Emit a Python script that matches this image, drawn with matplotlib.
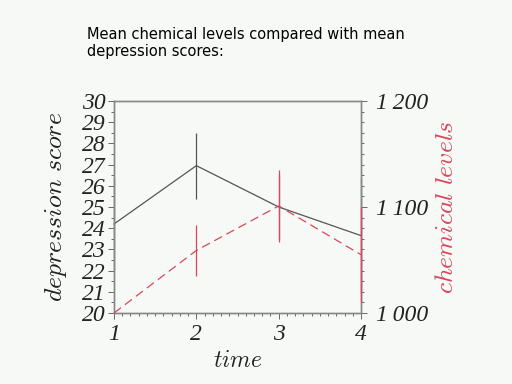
import matplotlib
matplotlib.use("Agg")
import matplotlib.pyplot as plt
from matplotlib.ticker import MultipleLocator, FixedLocator, FuncFormatter

plt.rcParams['mathtext.fontset'] = 'cm'

time = [1, 2, 3, 4]
depression = [24.2, 26.95, 25.0, 23.65]
depression_err = [2.15, 1.55, 1.5, 2.7]
chemical = [1000, 1059, 1101, 1055]
chemical_err = [0, 24, 34, 45]

title = "Mean chemical levels compared with mean\ndepression scores:"

fig = plt.figure(figsize=(5.12, 3.84), dpi=100, facecolor='#f6f9f6')
ax = fig.add_axes([0.2227, 0.1849, 0.4824, 0.5521])
ax.set_facecolor('#f6f9f6')
ax2 = ax.twinx()

ax.errorbar(time, depression, yerr=depression_err, color='#555555', lw=0.9,
            elinewidth=0.9, capsize=0, clip_on=False, zorder=3)
ax2.errorbar(time, chemical, yerr=chemical_err, color='#d8475a', lw=0.9,
             elinewidth=0.9, capsize=0, ls=(0, (7, 4)), clip_on=False, zorder=4)

ax.set_xlim(1, 4)
ax.set_ylim(20, 30)
ax2.set_ylim(1000, 1200)

fmt = FuncFormatter(lambda v, p: '%d' % round(v))
fmt2 = FuncFormatter(lambda v, p: str(int(round(v)))[0] + '\u2009' + str(int(round(v)))[1:])
ax.xaxis.set_major_locator(FixedLocator(time))
ax.xaxis.set_minor_locator(MultipleLocator(0.1))
ax.yaxis.set_major_locator(MultipleLocator(1))
ax.yaxis.set_minor_locator(MultipleLocator(0.5))
ax2.yaxis.set_major_locator(MultipleLocator(100))
ax2.yaxis.set_minor_locator(MultipleLocator(10))
ax.xaxis.set_major_formatter(fmt)
ax.yaxis.set_major_formatter(fmt)
ax2.yaxis.set_major_formatter(fmt2)

for a in (ax, ax2):
    for s in a.spines.values():
        s.set_color('#888888')
        s.set_linewidth(1.0)
    a.tick_params(which='both', color='#666666', width=0.7, labelsize=17, pad=2)
    a.tick_params(which='major', length=4)
    a.tick_params(which='minor', length=2.5)
ax2.tick_params(axis='y', pad=7)
ax.tick_params(axis='x', pad=4)

for lab in ax.get_xticklabels() + ax.get_yticklabels() + ax2.get_yticklabels():
    lab.set_family(['Liberation Serif', 'DejaVu Serif'])
    lab.set_style('italic')
    lab.set_color('#222222')

ax.set_ylabel(r'$\mathit{depression\ score}$', fontsize=18.5, labelpad=9, color='#222222')
ax.set_xlabel(r'$\mathit{time}$', fontsize=17, labelpad=2, color='#222222')
ax2.set_ylabel(r'$\mathit{chemical\ levels}$', fontsize=18.5, color='#d8475a', labelpad=3)

fig.text(0.17, 0.93, title, fontsize=10.5, family='DejaVu Sans', va='top', ha='left',
         linespacing=1.2)

fig.savefig('out.png', dpi=100, facecolor=fig.get_facecolor())
